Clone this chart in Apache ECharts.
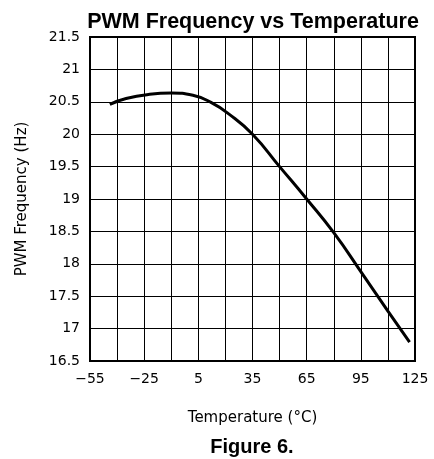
<!DOCTYPE html>
<html>
<head>
<meta charset="utf-8">
<script src="https://cdn.jsdelivr.net/npm/echarts@6/dist/echarts.min.js"></script>
<style>
  html, body { margin: 0; padding: 0; background: #fff; }
  #chart { width: 434px; height: 459px; }
</style>
</head>
<body>
<div id="chart"></div>
<script>
// temperature (°C) and PWM frequency (Hz)
const temps = [-44, -35, -22, -10, 2, 12, 22, 35, 50, 65, 80, 95, 110, 122]
const freqs = [20.46, 20.55, 20.615, 20.635, 20.60, 20.49, 20.31, 20.00, 19.50, 19.00, 18.48, 17.88, 17.27, 16.79]

const xMin = -55, xMax = 125, xStep = 15
const yMin = 16.5, yMax = 21.5, yStep = 0.5

const chart = echarts.init(document.getElementById('chart'))

const tickFont = { color: '#000', fontFamily: 'DejaVu Sans', fontSize: 14 }

chart.setOption({
  animation: false,
  title: [
    {
      text: 'PWM Frequency vs Temperature',
      left: 248, top: 6, textAlign: 'center',
      textStyle: { fontFamily: 'Liberation Sans', fontWeight: 'bold', fontSize: 21.5, color: '#000' }
    },
    {
      text: 'Figure 6.',
      left: 247, top: 432, textAlign: 'center',
      textStyle: { fontFamily: 'Liberation Sans', fontWeight: 'bold', fontSize: 20, color: '#000' }
    }
  ],
  grid: {
    left: 90, right: 19, top: 37, bottom: 98,
    show: true, borderColor: '#000', borderWidth: 2
  },
  xAxis: {
    type: 'value',
    min: xMin, max: xMax, interval: xStep,
    name: 'Temperature (°C)',
    nameLocation: 'middle',
    nameGap: 50,
    nameTextStyle: { color: '#000', fontFamily: 'DejaVu Sans', fontSize: 15 },
    axisLine: { onZero: false, lineStyle: { color: '#000', width: 2 } },
    axisTick: { show: false },
    axisLabel: {
      ...tickFont,
      margin: 11,
      formatter: v => ((v - xMin) % 30 === 0 ? String(v).replace('-', '−') : '')
    },
    splitLine: { show: true, lineStyle: { color: '#000', width: 1 } }
  },
  yAxis: {
    type: 'value',
    min: yMin, max: yMax, interval: yStep,
    name: 'PWM Frequency (Hz)',
    nameLocation: 'middle',
    nameGap: 60,
    nameTextStyle: { color: '#000', fontFamily: 'DejaVu Sans', fontSize: 15 },
    axisLine: { onZero: false, lineStyle: { color: '#000', width: 2 } },
    axisTick: { show: false },
    axisLabel: { ...tickFont, margin: 10 },
    splitLine: { show: true, lineStyle: { color: '#000', width: 1 } }
  },
  series: [
    {
      type: 'line',
      data: temps.map((t, i) => [t, freqs[i]]),
      smooth: 0.5,
      showSymbol: false,
      lineStyle: { color: '#000', width: 3 }
    }
  ]
})
</script>
</body>
</html>
